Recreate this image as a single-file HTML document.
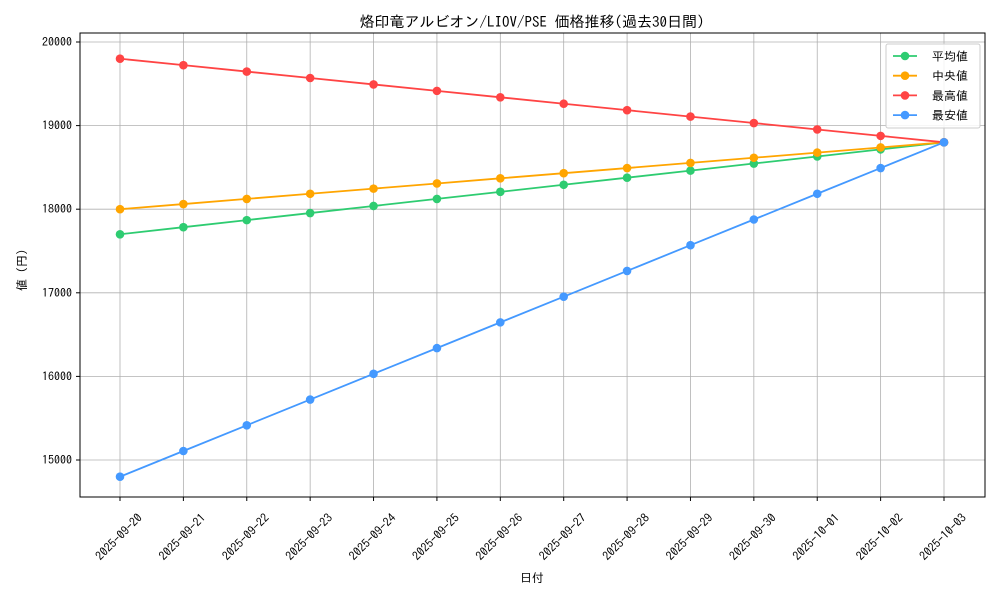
<!DOCTYPE html>
<html><head><meta charset="utf-8"><style>
html,body{margin:0;padding:0;background:#fff;}
svg{display:block;font-family:"IPAGothic","Liberation Sans","Noto Sans CJK JP",sans-serif;}
</style></head><body>
<svg id="s" width="1000" height="600" viewBox="0 0 1000 600" xmlns="http://www.w3.org/2000/svg">
<rect width="1000" height="600" fill="#fff"/>
<g id="grid"></g>
<g id="series"></g>
<rect x="80" y="33" width="905" height="464" fill="none" stroke="#000" stroke-width="1"/>
<g id="ticks" font-size="12" fill="#000"></g>
<text x="532" y="27" font-size="15" text-anchor="middle">烙印竜アルビオン/LIOV/PSE 価格推移(過去30日間)</text>
<text x="532" y="582" font-size="12" text-anchor="middle">日付</text>
<text transform="translate(26,270) rotate(-90)" font-size="12" text-anchor="middle">値 (円)</text>
<g id="legend">
<rect x="886" y="44" width="94" height="84" fill="#fff" fill-opacity="0.85" stroke="#ccc" rx="2"/>
</g>
</svg>
<script>
const NS="http://www.w3.org/2000/svg";
function el(p,t,a,txt){const e=document.createElementNS(NS,t);for(const k in a)e.setAttribute(k,a[k]);if(txt!==undefined)e.textContent=txt;p.appendChild(e);return e;}
const X=i=>120+i*(824/13), Y=v=>460-(v-15000)*0.0836;
const grid=document.getElementById('grid'),ticks=document.getElementById('ticks'),ser=document.getElementById('series'),leg=document.getElementById('legend');
const dates=["2025-09-20","2025-09-21","2025-09-22","2025-09-23","2025-09-24","2025-09-25","2025-09-26","2025-09-27","2025-09-28","2025-09-29","2025-09-30","2025-10-01","2025-10-02","2025-10-03"];
dates.forEach((d,i)=>{const x=X(i);
el(grid,'line',{x1:x,x2:x,y1:33,y2:497,stroke:'#b0b0b0','stroke-width':0.8});
el(ticks,'line',{x1:x,x2:x,y1:497,y2:501,stroke:'#000'});
el(ticks,'text',{transform:`translate(${x-1},${537}) rotate(-45)`,'text-anchor':'middle','dominant-baseline':'central'},d);});
for(let v=15000;v<=20000;v+=1000){const y=Y(v);
el(grid,'line',{x1:80,x2:985,y1:y,y2:y,stroke:'#b0b0b0','stroke-width':0.8});
el(ticks,'line',{x1:76,x2:80,y1:y,y2:y,stroke:'#000'});
el(ticks,'text',{x:72,y:y+4,'text-anchor':'end'},v);}
const S=[["平均値","#2ecc71",17700,18800],["中央値","#ffa500",18000,18800],["最高値","#ff4444",19800,18800],["最安値","#4499ff",14800,18800]];
S.forEach(([n,c,a,b],k)=>{let pts=[];for(let i=0;i<14;i++){pts.push([X(i),Y(a+(b-a)*i/13)]);}
el(ser,'polyline',{points:pts.map(p=>p.join(',')).join(' '),fill:'none',stroke:c,'stroke-width':1.8});
pts.forEach(p=>el(ser,'circle',{cx:p[0],cy:p[1],r:4.3,fill:c}));
const ly=56+k*19.7;
el(leg,'line',{x1:893,x2:917,y1:ly,y2:ly,stroke:c,'stroke-width':1.8});
el(leg,'circle',{cx:905,cy:ly,r:4.3,fill:c});
el(leg,'text',{x:932,y:ly+4.5,'font-size':12},n);});
</script>
</body></html>
